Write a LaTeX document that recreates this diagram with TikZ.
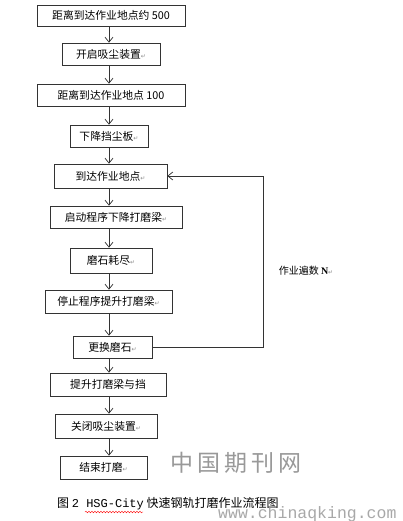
\documentclass[tikz,border=0pt]{standalone}
\usepackage{fontspec}
\setmainfont{Noto Sans CJK SC}
\newfontfamily\symf{DejaVu Sans}
\newfontfamily\monof{Liberation Mono}
\newfontfamily\seriff{Liberation Serif}
\usetikzlibrary{arrows.meta,decorations.pathmorphing}
\newcommand{\retmark}{{\symf\fontsize{6}{6}\selectfont\color{black!45}↵}}
\begin{document}
\begin{tikzpicture}[x=1pt,y=-1pt,
 box/.style={draw=black!80, line width=0.6pt, inner sep=0pt, font=\fontsize{10.8}{12}\selectfont},
 arr/.style={draw=black!80, line width=0.7pt, -{Straight Barb[length=5pt,width=8pt]}},
 wm/.style={text=black!40}]
\useasboundingbox (0,0) rectangle (402,521);
\fill[white] (0,0) rectangle (402,521);
\node[box, minimum width=148pt, minimum height=21pt] (b1) at (111,15.5) {距离到达作业地点约 500};
\node[box, minimum width=98pt, minimum height=22pt] (b2) at (111,54) {开启吸尘装置\retmark};
\node[box, minimum width=148pt, minimum height=22pt] (b3) at (111,95) {距离到达作业地点 100};
\node[box, minimum width=78pt, minimum height=22pt] (b4) at (109,136) {下降挡尘板\retmark};
\node[box, minimum width=113pt, minimum height=24pt] (b5) at (110.5,176) {到达作业地点\retmark};
\node[box, minimum width=132pt, minimum height=22pt] (b6) at (116,217) {启动程序下降打磨梁\retmark};
\node[box, minimum width=82pt, minimum height=25pt] (b7) at (111,260.5) {磨石耗尽\retmark};
\node[box, minimum width=127pt, minimum height=23pt] (b8) at (108.5,301.5) {停止程序提升打磨梁\retmark};
\node[box, minimum width=79pt, minimum height=22pt] (b9) at (112.5,347) {更换磨石\retmark};
\node[box, minimum width=116pt, minimum height=23pt] (b10) at (108,384.5) {提升打磨梁与挡};
\node[box, minimum width=102pt, minimum height=24pt] (b11) at (106,426) {关闭吸尘装置\retmark};
\node[box, minimum width=87pt, minimum height=23pt] (b12) at (103.5,467.5) {结束打磨\retmark};
\coordinate (col) at (109,0);
\foreach \a/\b in {b1/b2,b2/b3,b3/b4,b4/b5,b5/b6,b6/b7,b7/b8,b8/b9,b9/b10,b10/b11,b11/b12}
  \draw[arr] (\a.south -| col) -- (\b.north -| col);
\coordinate (rt) at (263,0);
\draw[arr] (b9.east) -- (b9.east -| rt) -- (b5.east -| rt) -- (b5.east);
\node[font=\fontsize{10}{12}\selectfont] (lbl) at (306,271) {作业遍数 {\seriff\bfseries N}\retmark};
\node[wm, font=\fontsize{23}{26}\selectfont] (wm1) at (236,463) {中\,国\,期\,刊\,网};
\node[font=\fontsize{12}{14}\selectfont, anchor=west, inner sep=0pt] (cap) at (57,504) {图 {\monof 2 }{\monof HSG-City} 快速钢轨打磨作业流程图};
\draw[red, line width=0.4pt, decorate, decoration={snake, amplitude=0.8pt, segment length=3pt}] (85,512) -- (143,512);
\node[wm, font=\fontsize{16.5}{20}\selectfont\monof, anchor=west, inner sep=0pt, opacity=0.85] (wm2) at (218,514) {www.chinaqking.com};
\end{tikzpicture}
\end{document}
